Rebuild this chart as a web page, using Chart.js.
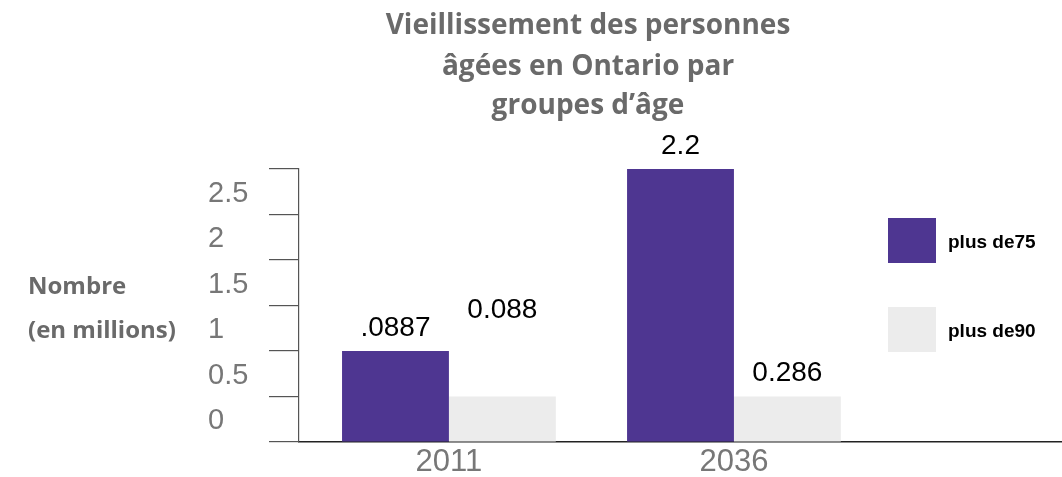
<!DOCTYPE html>
<html>
<head>
<meta charset="utf-8">
<script src="https://cdn.jsdelivr.net/npm/chart.js@4/dist/chart.umd.min.js"></script>
<style>
  html, body { margin: 0; padding: 0; background: #fff; }
  #wrap { width: 1062px; height: 477px; position: relative; }
</style>
</head>
<body>
<div id="wrap"><canvas id="agesChart"></canvas></div>
<script>
// valeurs
const years = ['2011', '2036'];
const plus75 = [1.0, 3.0];
const plus90 = [0.5, 0.5];
const labels75 = ['.0887', '2.2'];
const labels90 = ['0.088', '0.286'];
const yTickLabels = ['0', '0.5', '1', '1.5', '2', '2.5'];
const seriesNames = ['plus de75', 'plus de90'];
const titleLines = ['Vieillissement des personnes', 'âgées en Ontario par', 'groupes d’âge'];
const yTitleLines = ['Nombre', '(en millions)'];

const purple = '#4e3691';
const lightGrey = '#ececec';
const textGrey = '#777777';

// titre, titre de l'axe Y et légende dessinés à la main
const decorPlugin = {
    id: 'decor',
    afterDraw(chart) {
        const ctx = chart.ctx;
        ctx.save();
        ctx.fillStyle = '#6a6a6a';
        ctx.textAlign = 'center';
        ctx.textBaseline = 'alphabetic';
        ctx.font = 'bold 28px "Open Sans"';
        const base = [34, 75, 114];
        titleLines.forEach((t, i) => ctx.fillText(t, 588, base[i]));

        ctx.textAlign = 'left';
        ctx.font = 'bold 24px "Open Sans"';
        ctx.fillText(yTitleLines[0], 28, 294);
        ctx.fillText(yTitleLines[1], 28, 338);

        // légende
        const tops = [218, 307];
        chart.data.datasets.forEach((ds, i) => {
            ctx.fillStyle = ds.backgroundColor;
            ctx.fillRect(888, tops[i], 48, 45);
            ctx.fillStyle = '#000';
            ctx.font = 'bold 19px "Liberation Sans", Arial';
            ctx.textBaseline = 'alphabetic';
            ctx.fillText(ds.label, 948, tops[i] + 22 + 8);
        });
        ctx.restore();
    }
};

// étiquettes au-dessus des barres
const valueLabels = {
    id: 'valueLabels',
    afterDatasetsDraw(chart) {
        const ctx = chart.ctx;
        const texts = [labels75, labels90];
        const lift = [[0, 0], [63, 0]];
        ctx.save();
        ctx.fillStyle = '#000';
        ctx.font = '28px "Liberation Sans", Arial';
        ctx.textAlign = 'center';
        ctx.textBaseline = 'middle';
        chart.data.datasets.forEach((ds, d) => {
            chart.getDatasetMeta(d).data.forEach((bar, i) => {
                ctx.fillText(texts[d][i], bar.x, bar.y - 23 - lift[d][i]);
            });
        });
        ctx.restore();
    }
};

function createChart() {
    const ctx = document.getElementById('agesChart').getContext('2d');
    return new Chart(ctx, {
        type: 'bar',
        data: {
            datasets: [{
                label: seriesNames[0],
                data: plus75.map((v, i) => ({ x: i, y: v })),
                backgroundColor: purple
            }, {
                label: seriesNames[1],
                data: plus90.map((v, i) => ({ x: i, y: v })),
                backgroundColor: lightGrey
            }]
        },
        options: {
            responsive: true,
            maintainAspectRatio: false,
            animation: false,
            layout: { padding: { left: 208, top: 169, right: 0, bottom: 0 } },
            datasets: { bar: { categoryPercentage: 0.75, barPercentage: 1 } },
            plugins: {
                legend: { display: false },
                title: { display: false },
                tooltip: { enabled: false }
            },
            scales: {
                x: {
                    type: 'linear',
                    min: -0.526,
                    max: 2.151,
                    offset: false,
                    bounds: 'data',
                    afterBuildTicks: s => { s.ticks = years.map((y, i) => ({ value: i })); },
                    afterFit: s => { s.height = 35; },
                    grid: { display: false, drawTicks: false, offset: false },
                    border: { display: true, color: '#222', width: 1.5 },
                    ticks: {
                        autoSkip: false,
                        maxRotation: 0,
                        padding: 2,
                        color: textGrey,
                        font: { family: '"Liberation Sans", Arial', size: 31 },
                        callback: v => years[v] ?? ''
                    }
                },
                y: {
                    min: 0,
                    max: 3,
                    afterFit: s => { s.width = 91; },
                    grid: { drawOnChartArea: false, drawTicks: true, tickLength: 30, tickColor: '#555', lineWidth: 1.2 },
                    border: { display: true, color: '#555', width: 1.2 },
                    ticks: {
                        stepSize: 0.5,
                        crossAlign: 'far',
                        labelOffset: -21,
                        color: textGrey,
                        font: { family: '"Liberation Sans", Arial', size: 29 },
                        callback: (v, i) => yTickLabels[i] ?? ''
                    }
                }
            }
        },
        plugins: [valueLabels, decorPlugin]
    });
}

createChart();
</script>
</body>
</html>
